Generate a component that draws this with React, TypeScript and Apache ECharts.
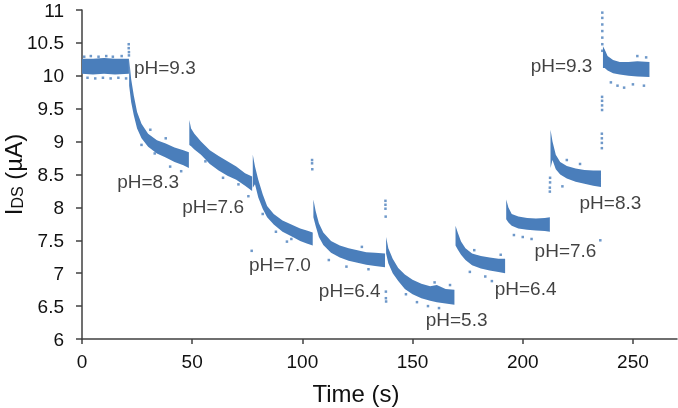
import React, { useEffect, useRef } from "react";
import * as echarts from "echarts";

// Band segments: [time (s), lower I_DS (µA), upper I_DS (µA)]
const segPH93a = [[0, 10.03, 10.26], [5, 10.02, 10.26], [10, 10.03, 10.27], [15, 10.02, 10.26], [21.3, 10.03, 10.26]];
const segPH83a = [[21.4, 9.85, 10.25], [22.3, 9.6, 9.95], [23.5, 9.4, 9.7], [25, 9.2, 9.45], [27, 9.05, 9.27], [30, 8.92, 9.12], [34, 8.82, 9.02], [38, 8.76, 8.97], [42, 8.69, 8.91], [46, 8.64, 8.87], [48.5, 8.6, 8.84]];
const segPH76a = [[48.7, 8.95, 9.33], [49.5, 8.93, 9.2], [51, 8.88, 9.12], [54, 8.8, 9.0], [58, 8.66, 8.87], [62, 8.56, 8.78], [66, 8.48, 8.7], [70, 8.42, 8.62], [74, 8.33, 8.52], [77.2, 8.25, 8.47]];
const segPH70 = [[77.5, 8.3, 8.8], [78.5, 8.35, 8.62], [80, 8.15, 8.42], [82, 7.98, 8.2], [84, 7.85, 8.02], [87, 7.74, 7.9], [91, 7.63, 7.8], [95, 7.56, 7.74], [99, 7.49, 7.68], [102, 7.45, 7.65], [104.7, 7.42, 7.62]];
const segPH64a = [[105, 7.85, 8.12], [106, 7.72, 7.95], [107.5, 7.55, 7.76], [109.5, 7.43, 7.62], [113, 7.31, 7.49], [117, 7.24, 7.42], [121, 7.19, 7.38], [125, 7.16, 7.35], [129, 7.13, 7.32], [133, 7.11, 7.31], [137.5, 7.09, 7.3]];
const segPH53 = [[138, 7.3, 7.55], [139, 7.15, 7.38], [141, 7.0, 7.22], [143.5, 6.88, 7.08], [146.5, 6.76, 6.98], [150, 6.68, 6.9], [154, 6.62, 6.84], [158, 6.58, 6.8], [161, 6.56, 6.82], [165, 6.54, 6.76], [169, 6.52, 6.75]];
const segPH64b = [[169.5, 7.42, 7.72], [170.5, 7.36, 7.62], [172, 7.28, 7.48], [174, 7.2, 7.38], [177, 7.12, 7.3], [181, 7.07, 7.26], [185, 7.04, 7.24], [189, 7.02, 7.22], [192, 7.0, 7.22]];
const segPH76b = [[192.5, 7.82, 8.12], [193.5, 7.77, 8.0], [195, 7.72, 7.9], [198, 7.68, 7.86], [202, 7.66, 7.84], [206, 7.65, 7.83], [210, 7.64, 7.84], [212.3, 7.63, 7.85]];
const segPH83b = [[212.6, 8.6, 9.18], [213.5, 8.72, 9.0], [215, 8.58, 8.8], [217, 8.5, 8.69], [220, 8.44, 8.63], [224, 8.39, 8.59], [228, 8.36, 8.57], [232, 8.33, 8.56], [235.5, 8.31, 8.56]];
const segPH93b = [[236.4, 10.12, 10.45], [237.2, 10.12, 10.4], [238.5, 10.08, 10.3], [241, 10.04, 10.24], [244, 10.02, 10.21], [248, 10.0, 10.21], [252, 9.99, 10.22], [257.5, 9.98, 10.21]];

const segments = [segPH93a, segPH83a, segPH76a, segPH70, segPH64a, segPH53, segPH64b, segPH76b, segPH83b, segPH93b];

// Scattered individual readings outside the dense bands: [time, I_DS]
const strayPoints = [
  [21.2, 10.48], [21.2, 10.42], [21.3, 10.36], [21.3, 10.31],
  [1, 10.29], [4, 10.3], [7.5, 10.29], [11, 10.3], [14, 10.29], [18, 10.3],
  [2.5, 9.97], [6, 9.96], [9.5, 9.97], [13, 9.96], [16.5, 9.97], [20, 9.96],
  [27, 8.95], [33, 8.82], [40, 8.62], [45, 8.55], [31, 9.18], [38, 9.05],
  [56, 8.7], [64, 8.45], [71, 8.35], [75.5, 8.17],
  [82, 7.9], [88, 7.63], [93, 7.48], [95, 7.52], [77, 7.34],
  [104.4, 8.72], [104.4, 8.67], [104.5, 8.58],
  [112, 7.2], [120, 7.1], [130, 7.06], [127, 7.4],
  [137.7, 8.1], [137.7, 8.04], [137.7, 7.98], [137.8, 7.86], [137.9, 6.72], [137.9, 6.62], [138, 6.57],
  [147, 6.68], [152, 6.56], [157, 6.5], [160, 6.86], [167, 6.82], [162, 6.47],
  [176, 7.02], [183, 6.95], [186, 6.88], [178, 7.35], [190, 7.28],
  [196, 7.58], [200, 7.55], [204, 7.52], [235.2, 7.5],
  [212.3, 8.3], [212.3, 8.24], [212.4, 8.38], [212.4, 8.45], [220, 8.72], [226, 8.66], [218, 8.32],
  [235.9, 8.9], [235.9, 8.98], [235.9, 9.05], [235.9, 9.12], [236, 9.48], [236, 9.55], [236, 9.62], [236, 9.68],
  [236.1, 10.38], [236.1, 10.48], [236.1, 10.58], [236.1, 10.68], [236.1, 10.78], [236.1, 10.88], [236.1, 10.96],
  [240, 9.9], [243, 9.85], [246, 9.82], [250, 9.87], [255, 9.85], [252, 10.3], [256, 10.28],
];

// Annotations
const labelTexts = ["pH=9.3", "pH=8.3", "pH=7.6", "pH=7.0", "pH=6.4", "pH=5.3", "pH=6.4", "pH=7.6", "pH=8.3", "pH=9.3"];
const labelTimes = [37.6, 30, 59.5, 89.8, 121.5, 170, 201.3, 219.4, 239.8, 217.6];
const labelValues = [10.13, 8.39, 8.02, 7.13, 6.74, 6.29, 6.76, 7.35, 8.07, 10.16];

const xTicks = [0, 50, 100, 150, 200, 250];
const yTicks = [6, 6.5, 7, 7.5, 8, 8.5, 9, 9.5, 10, 10.5, 11];

const BLUE = "#4a7ebb";
const FONT = "Liberation Sans, Arial, sans-serif";
const AXIS = "#404040";
const TEXT = "#111";

export default function App() {
  const ref = useRef<HTMLDivElement>(null);
  useEffect(() => {
    document.body.style.margin = "0";
    const chart = echarts.init(ref.current!, null, { renderer: "svg" });

    const bandSeries = segments.map((seg) => ({
      type: "custom",
      data: seg,
      encode: { x: 0, y: [1, 2] },
      silent: true,
      renderItem: (params: any, api: any) => {
        if (params.dataIndex !== 0) return null;
        const upper: number[][] = [];
        const lower: number[][] = [];
        for (let j = 0; j < seg.length; j++) {
          const t = api.value(0, j);
          upper.push(api.coord([t, api.value(2, j)]));
          lower.push(api.coord([t, api.value(1, j)]));
        }
        return {
          type: "polygon",
          shape: { points: upper.concat(lower.reverse()) },
          style: { fill: BLUE, stroke: "none" },
        };
      },
    }));

    chart.setOption({
      animation: false,
      grid: { left: 82, right: 1, top: 10, bottom: 69, outerBoundsMode: "none" },
      xAxis: {
        type: "value",
        min: 0,
        max: 270,
        interval: 50,
        name: "Time (s)",
        nameLocation: "middle",
        nameGap: 42,
        nameMoveOverlap: false,
        nameTextStyle: { fontFamily: FONT, fontSize: 24, color: TEXT, padding: [0, 47, 0, 0] },
        splitLine: { show: false },
        axisLine: { lineStyle: { color: AXIS, width: 1.5 } },
        axisTick: { length: 5, lineStyle: { color: AXIS, width: 1.5 }, customValues: xTicks },
        axisLabel: { fontFamily: FONT, fontSize: 19, color: TEXT, margin: 13, customValues: xTicks },
      },
      yAxis: {
        type: "value",
        min: 6,
        max: 11,
        interval: 0.5,
        name: "{a|I}{b|DS}{a| (µA)}",
        nameLocation: "middle",
        nameGap: 57,
        nameMoveOverlap: false,
        nameTextStyle: {
          fontFamily: FONT,
          color: TEXT,
          rich: {
            a: { fontFamily: FONT, fontSize: 24, color: TEXT, lineHeight: 28, verticalAlign: "bottom" },
            b: { fontFamily: FONT, fontSize: 16, color: TEXT, lineHeight: 28, verticalAlign: "bottom" },
          },
        },
        splitLine: { show: false },
        axisLine: { show: true, lineStyle: { color: AXIS, width: 1.5 } },
        axisTick: { show: true, length: 6, lineStyle: { color: AXIS, width: 1.5 } },
        axisLabel: { fontFamily: FONT, fontSize: 19, color: TEXT, margin: 18, customValues: yTicks },
      },
      series: [
        ...bandSeries,
        {
          type: "scatter",
          data: strayPoints,
          symbol: "rect",
          symbolSize: 2.5,
          itemStyle: { color: BLUE },
          silent: true,
        },
        {
          type: "scatter",
          data: labelTexts.map((txt, i) => [labelTimes[i], labelValues[i], txt]),
          symbolSize: 0,
          silent: true,
          label: {
            show: true,
            position: "inside",
            formatter: (p: any) => p.value[2],
            fontFamily: FONT,
            fontSize: 19,
            color: TEXT,
          },
        },
      ],
    });
    return () => chart.dispose();
  }, []);
  return <div ref={ref} style={{ position: "fixed", left: 0, top: 0, width: 678, height: 408 }} />;
}
